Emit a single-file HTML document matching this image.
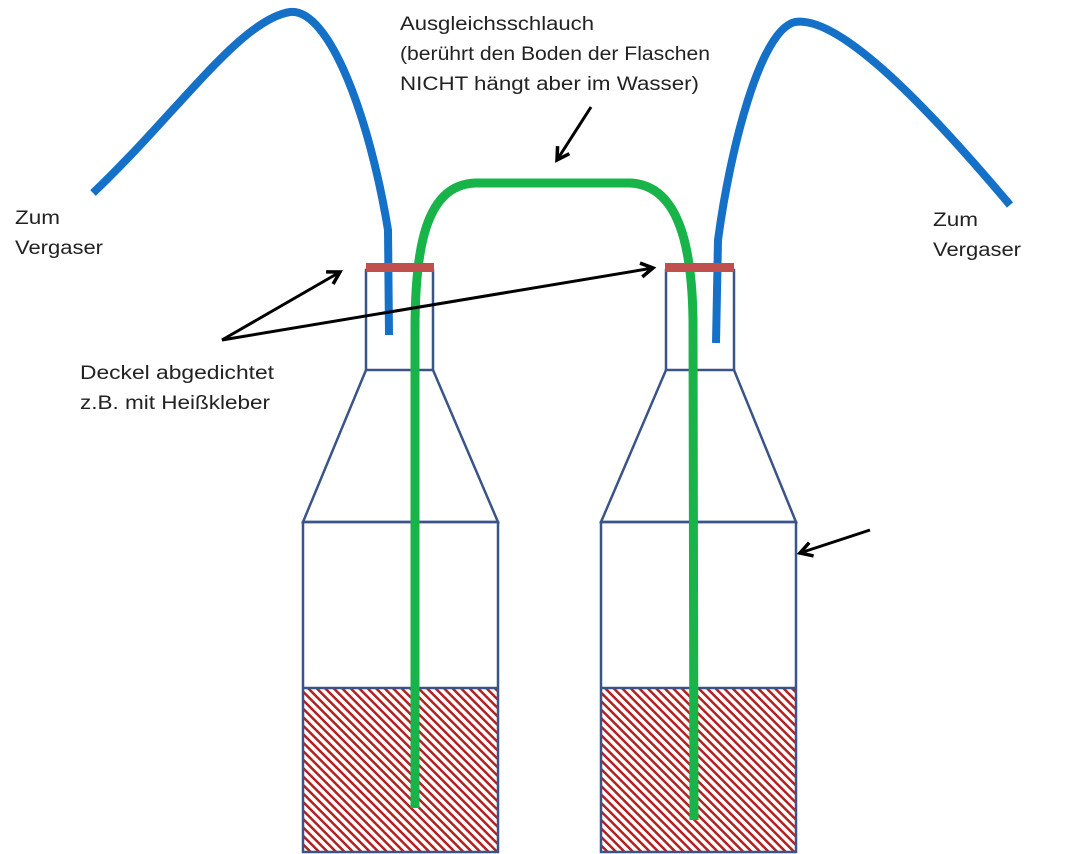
<!DOCTYPE html>
<html><head><meta charset="utf-8"><style>
html,body{margin:0;padding:0;background:#fff;}
svg{display:block;}
text{font-family:"Liberation Sans",sans-serif;font-size:19px;fill:#222;}
</style></head><body>
<svg width="1074" height="854" viewBox="0 0 1074 854" xmlns="http://www.w3.org/2000/svg">
<defs>
<pattern id="h" patternUnits="userSpaceOnUse" width="6" height="6" patternTransform="rotate(-45)">
<rect width="6" height="6" fill="#fff"/>
<rect width="2.5" height="6" fill="#b32020"/>
</pattern>
<marker id="a" markerWidth="18" markerHeight="18" refX="14" refY="9" orient="auto" markerUnits="userSpaceOnUse">
<path d="M2,2 L14,9 L2,16" fill="none" stroke="#000" stroke-width="3.5"/>
</marker>
</defs>
<rect x="303" y="688" width="195" height="164" fill="url(#h)"/>
<rect x="601" y="688" width="195" height="164" fill="url(#h)"/>
<g fill="none" stroke="#3a5488" stroke-width="2.5">
<rect x="366" y="270" width="67" height="100"/>
<path d="M366,370 L303,522 L498,522 L433,370"/>
<rect x="303" y="522" width="195" height="330"/>
<line x1="303" y1="688" x2="498" y2="688"/>
<rect x="666" y="270" width="68" height="100"/>
<path d="M666,370 L601,522 L796,522 L734,370"/>
<rect x="601" y="522" width="195" height="330"/>
<line x1="601" y1="688" x2="796" y2="688"/>
</g>
<g fill="none" stroke="#1570c8" stroke-width="8">
<path d="M93,193 C180,110 240,20 290,12 C330,8 370,120 388,230 L389,335"/>
<path d="M716,343 L718,240 C730,150 760,30 795,22 C840,15 930,110 1010,205"/>
</g>
<path d="M415,808 L415,330 C415,250 425,185 475,183 L630,183 C680,185 692,250 693,320 L694,820" fill="none" stroke="#18b44a" stroke-width="9"/>
<rect x="366" y="263" width="68" height="9" fill="#c0504d"/>
<rect x="665" y="263" width="69" height="9" fill="#c0504d"/>
<g stroke="#000" stroke-width="3" fill="none" marker-end="url(#a)">
<line x1="222" y1="340" x2="340" y2="272"/>
<line x1="222" y1="340" x2="653" y2="268"/>
<line x1="591" y1="107" x2="557" y2="160"/>
<line x1="870" y1="530" x2="800" y2="553"/>
</g>
<text x="400" y="30" textLength="194" lengthAdjust="spacingAndGlyphs">Ausgleichsschlauch</text>
<text x="400" y="60" textLength="310" lengthAdjust="spacingAndGlyphs">(berührt den Boden der Flaschen</text>
<text x="400" y="90" textLength="299" lengthAdjust="spacingAndGlyphs">NICHT hängt aber im Wasser)</text>
<text x="15" y="224" textLength="45" lengthAdjust="spacingAndGlyphs">Zum</text>
<text x="15" y="254" textLength="88" lengthAdjust="spacingAndGlyphs">Vergaser</text>
<text x="933" y="226" textLength="45" lengthAdjust="spacingAndGlyphs">Zum</text>
<text x="933" y="256" textLength="88" lengthAdjust="spacingAndGlyphs">Vergaser</text>
<text x="80" y="379" textLength="194" lengthAdjust="spacingAndGlyphs">Deckel abgedichtet</text>
<text x="80" y="409" textLength="190" lengthAdjust="spacingAndGlyphs">z.B. mit Heißkleber</text>
</svg>
</body></html>
